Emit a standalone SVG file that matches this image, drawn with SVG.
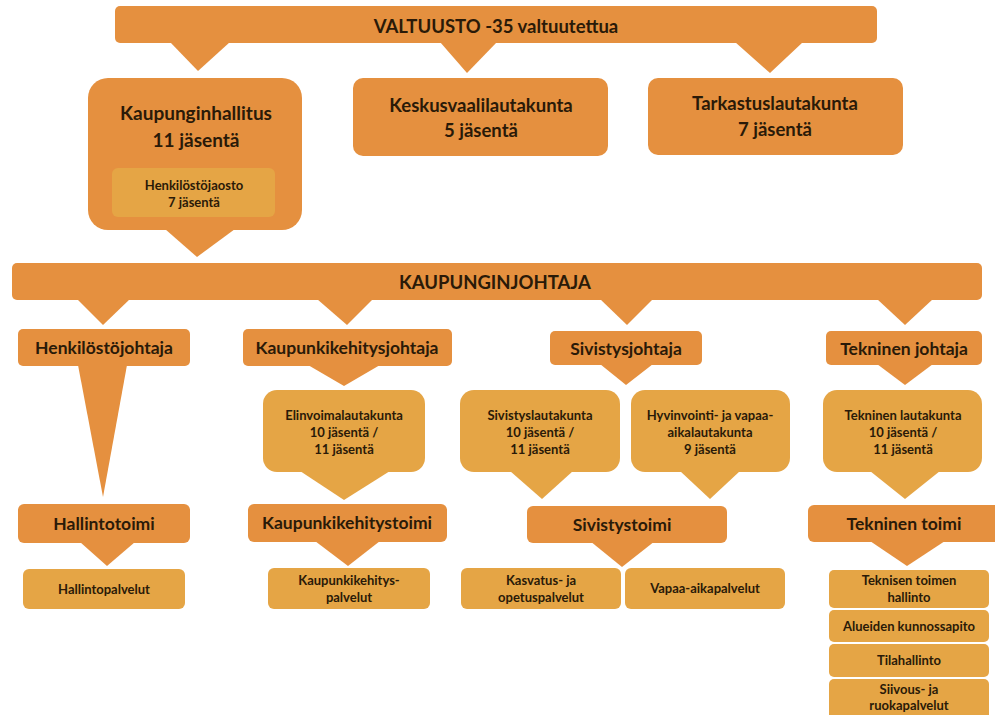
<svg xmlns="http://www.w3.org/2000/svg" width="995" height="715" viewBox="0 0 995 715">
<style>
.d{fill:#E5903F}
.l{fill:#E5A545}
text{font-family:Lato,"Open Sans","Liberation Sans",sans-serif;font-weight:bold;fill:#2a1a08;text-anchor:middle}
.t16{font-size:18.5px}
.t17{font-size:19px}
.t15{font-size:17.5px}
.tm{font-size:17.5px}
.t11{font-size:13px}
</style>
<rect width="995" height="715" fill="#ffffff"/>
<g id="connectors">
<polygon class="d" points="170,42 230,42 198,71"/>
<polygon class="d" points="440,42 497,42 467,73"/>
<polygon class="d" points="735,42 803,42 770,73"/>
<polygon class="d" points="165,229 235,229 197,257"/>
<polygon class="d" points="77,299 130,299 103,325"/>
<polygon class="d" points="317,299 373,299 347,325"/>
<polygon class="d" points="600,299 653,299 627,325"/>
<polygon class="d" points="877,299 933,299 905,325"/>
<polygon class="d" points="78,365 127,365 103,497"/>
<polygon class="d" points="308,365 380,365 344,386"/>
<polygon class="d" points="600,364 653,364 626,385"/>
<polygon class="d" points="877,364 933,364 905,385"/>
<polygon class="l" points="300,471 390,471 344,500"/>
<polygon class="l" points="510,471 573,471 542,499"/>
<polygon class="l" points="680,471 740,471 710,499"/>
<polygon class="l" points="870,471 940,471 905,499"/>
<polygon class="d" points="80,542 135,542 107,566"/>
<polygon class="d" points="315,541 380,541 348,566"/>
<polygon class="d" points="590,541 655,541 622,567"/>
<polygon class="d" points="870,541 945,541 907,566"/>
</g>
<g id="valtuusto"><rect class="d" x="115" y="6" width="762" height="37" rx="5"/><text class="t16" x="496" y="33">VALTUUSTO -35 valtuutettua</text></g>
<g id="kaupunginhallitus"><rect class="d" x="88" y="78" width="214" height="152" rx="20"/><text class="t17" x="196" y="120">Kaupunginhallitus</text><text class="t17" x="196" y="147">11 jäsentä</text></g>
<g id="henkilostojaosto"><rect class="l" x="112" y="168" width="163" height="49" rx="6"/><text class="t11" x="194" y="190">Henkilöstöjaosto</text><text class="t11" x="194" y="207">7 jäsentä</text></g>
<g id="keskusvaalilautakunta"><rect class="d" x="353" y="78" width="255" height="78" rx="10"/><text class="t16" x="481" y="112">Keskusvaalilautakunta</text><text class="t16" x="481" y="137">5 jäsentä</text></g>
<g id="tarkastuslautakunta"><rect class="d" x="648" y="78" width="255" height="77" rx="10"/><text class="t16" x="775" y="110">Tarkastuslautakunta</text><text class="t16" x="775" y="136">7 jäsentä</text></g>
<g id="kaupunginjohtaja"><rect class="d" x="12" y="263" width="970" height="37" rx="5"/><text class="t16" x="495" y="289">KAUPUNGINJOHTAJA</text></g>
<g id="henkilostojohtaja"><rect class="d" x="18" y="329" width="172" height="37" rx="5"/><text class="t15" x="104" y="354">Henkilöstöjohtaja</text></g>
<g id="kaupunkikehitysjohtaja"><rect class="d" x="243" y="329" width="209" height="37" rx="5"/><text class="t15" x="347" y="354">Kaupunkikehitysjohtaja</text></g>
<g id="sivistysjohtaja"><rect class="d" x="550" y="331" width="152" height="34" rx="5"/><text class="t15" x="626" y="355">Sivistysjohtaja</text></g>
<g id="tekninenjohtaja"><rect class="d" x="826" y="331" width="156" height="34" rx="5"/><text class="t15" x="904" y="355">Tekninen johtaja</text></g>
<g id="elinvoimalautakunta"><rect class="l" x="263" y="390" width="162" height="82" rx="14"/><text class="t11" x="344" y="420">Elinvoimalautakunta</text><text class="t11" x="344" y="437">10 jäsentä /</text><text class="t11" x="344" y="454">11 jäsentä</text></g>
<g id="sivistyslautakunta"><rect class="l" x="460" y="390" width="160" height="82" rx="14"/><text class="t11" x="540" y="420">Sivistyslautakunta</text><text class="t11" x="540" y="437">10 jäsentä /</text><text class="t11" x="540" y="454">11 jäsentä</text></g>
<g id="hyvinvointilautakunta"><rect class="l" x="631" y="390" width="159" height="82" rx="14"/><text class="t11" x="710" y="420">Hyvinvointi- ja vapaa-</text><text class="t11" x="710" y="437">aikalautakunta</text><text class="t11" x="710" y="454">9 jäsentä</text></g>
<g id="tekninenlautakunta"><rect class="l" x="823" y="390" width="159" height="82" rx="14"/><text class="t11" x="903" y="420">Tekninen lautakunta</text><text class="t11" x="903" y="437">10 jäsentä /</text><text class="t11" x="903" y="454">11 jäsentä</text></g>
<g id="hallintotoimi"><rect class="d" x="18" y="504" width="172" height="39" rx="6"/><text class="tm" x="104" y="530">Hallintotoimi</text></g>
<g id="hallintopalvelut"><rect class="l" x="23" y="569" width="162" height="40" rx="6"/><text class="t11" x="104" y="594">Hallintopalvelut</text></g>
<g id="kaupunkikehitystoimi"><rect class="d" x="248" y="504" width="199" height="38" rx="6"/><text class="tm" x="347" y="529">Kaupunkikehitystoimi</text></g>
<g id="kaupunkikehityspalvelut"><rect class="l" x="268" y="568" width="162" height="41" rx="6"/><text class="t11" x="349" y="585">Kaupunkikehitys-</text><text class="t11" x="349" y="602">palvelut</text></g>
<g id="sivistystoimi"><rect class="d" x="527" y="506" width="200" height="37" rx="6"/><text class="tm" x="622" y="531">Sivistystoimi</text></g>
<g id="kasvatuspalvelut"><rect class="l" x="461" y="568" width="160" height="41" rx="6"/><text class="t11" x="541" y="585">Kasvatus- ja</text><text class="t11" x="541" y="602">opetuspalvelut</text></g>
<g id="vapaaaikapalvelut"><rect class="l" x="625" y="568" width="160" height="41" rx="6"/><text class="t11" x="705" y="593">Vapaa-aikapalvelut</text></g>
<g id="tekninentoimi"><rect class="d" x="808" y="505" width="192" height="37" rx="6"/><text class="tm" x="904" y="530">Tekninen toimi</text></g>
<g id="teknisentoimenhallinto"><rect class="l" x="829" y="570" width="160" height="38" rx="5"/><text class="t11" x="909" y="585">Teknisen toimen</text><text class="t11" x="909" y="602">hallinto</text></g>
<g id="alueidenkunnossapito"><rect class="l" x="829" y="610" width="160" height="32" rx="5"/><text class="t11" x="909" y="631">Alueiden kunnossapito</text></g>
<g id="tilahallinto"><rect class="l" x="829" y="644" width="160" height="33" rx="5"/><text class="t11" x="909" y="665">Tilahallinto</text></g>
<g id="siivousruokapalvelut"><rect class="l" x="829" y="679" width="160" height="40" rx="5"/><text class="t11" x="909" y="694">Siivous- ja</text><text class="t11" x="909" y="710">ruokapalvelut</text></g>
</svg>
